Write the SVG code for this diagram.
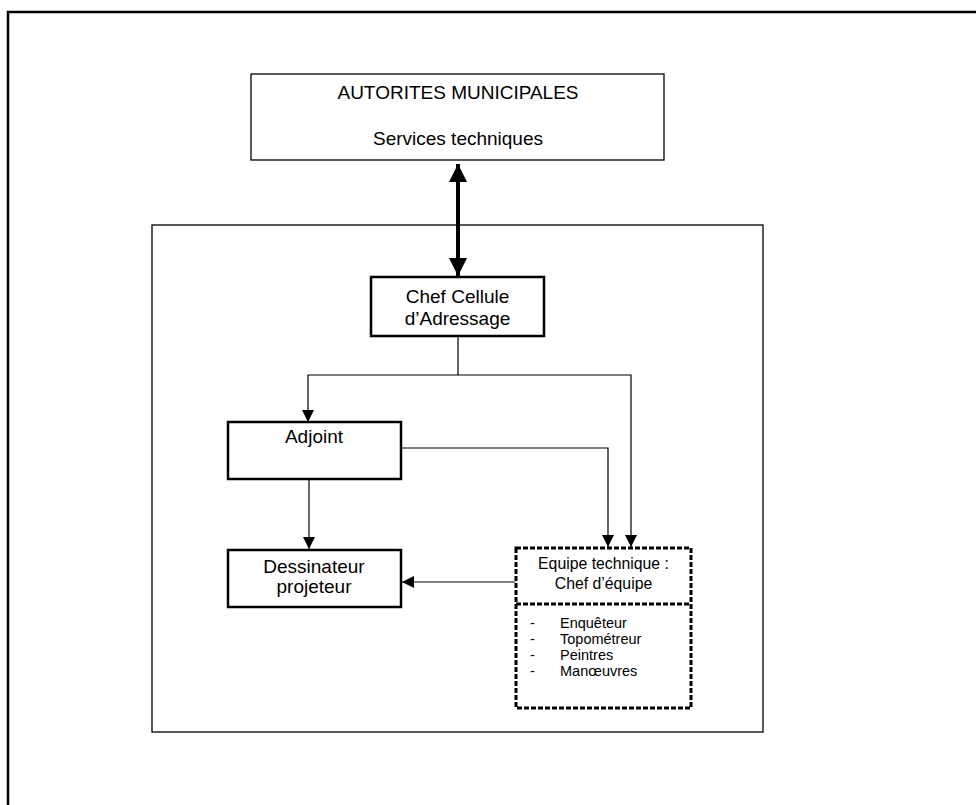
<svg xmlns="http://www.w3.org/2000/svg" width="976" height="805" viewBox="0 0 976 805">
<style>
text{font-family:"Liberation Sans",Arial,sans-serif;fill:#000}
.t16{font-size:19px;text-anchor:middle}
.t13{font-size:15.8px}
.li{font-size:14.5px}
.box{fill:#fff;stroke:#000;stroke-width:2.5}
.thin{fill:#fff;stroke:#000;stroke-width:1.3}
.dot{fill:none;stroke:#000;stroke-width:3;stroke-dasharray:5 2}
.ln{fill:none;stroke:#000;stroke-width:1.2}
</style>
<defs>
<marker id="ah" viewBox="0 0 10 10" refX="10" refY="5" markerWidth="13" markerHeight="12" markerUnits="userSpaceOnUse" orient="auto"><path d="M0,0L10,5L0,10z" fill="#000"/></marker>
<marker id="big" viewBox="0 0 10 10" refX="10" refY="5" markerWidth="28" markerHeight="18" markerUnits="userSpaceOnUse" orient="auto-start-reverse"><path d="M0,0L10,5L0,10z" fill="#000"/></marker>
</defs>
<rect width="976" height="805" fill="#fff"/>
<g id="frame"><path d="M8,805V12H976" fill="none" stroke="#000" stroke-width="2.5"/></g>
<g id="container"><rect x="152" y="225" width="611" height="507" class="thin"/></g>
<g id="autorites"><rect x="251" y="74" width="413" height="86" class="thin"/>
<text class="t16" x="458" y="99">AUTORITES MUNICIPALES</text>
<text class="t16" x="458" y="145">Services techniques</text></g>
<g id="connectors">
<line x1="458" y1="164" x2="458" y2="276" stroke="#000" stroke-width="4" marker-start="url(#big)" marker-end="url(#big)"/>
<path class="ln" d="M458,336V375H308V422" marker-end="url(#ah)"/>
<path class="ln" d="M458,375H631V547" marker-end="url(#ah)"/>
<path class="ln" d="M401,448H608V547" marker-end="url(#ah)"/>
<path class="ln" d="M309,479V549" marker-end="url(#ah)"/>
<path class="ln" d="M515,582H402" marker-end="url(#ah)"/>
</g>
<g id="chef"><rect x="371" y="277" width="173" height="59" class="box"/>
<text class="t16" x="457.5" y="303">Chef Cellule</text>
<text class="t16" x="457.5" y="325">d’Adressage</text></g>
<g id="adjoint"><rect x="228" y="422" width="173" height="57" class="box"/>
<text class="t16" x="314" y="443">Adjoint</text></g>
<g id="dessinateur"><rect x="228" y="550" width="173" height="57" class="box"/>
<text class="t16" x="314" y="573">Dessinateur</text>
<text class="t16" x="314" y="593">projeteur</text></g>
<g id="equipe"><rect x="516" y="548" width="175" height="160" class="dot"/>
<line x1="516" y1="604" x2="691" y2="604" class="dot"/>
<text class="t13" x="603.5" y="569" text-anchor="middle">Equipe technique :</text>
<text class="t13" x="603.5" y="589" text-anchor="middle">Chef d’équipe</text>
<text class="li" x="530" y="628">-</text><text class="li" x="560" y="628">Enquêteur</text>
<text class="li" x="530" y="644">-</text><text class="li" x="560" y="644">Topométreur</text>
<text class="li" x="530" y="660">-</text><text class="li" x="560" y="660">Peintres</text>
<text class="li" x="530" y="676">-</text><text class="li" x="560" y="676">Manœuvres</text></g>
</svg>
